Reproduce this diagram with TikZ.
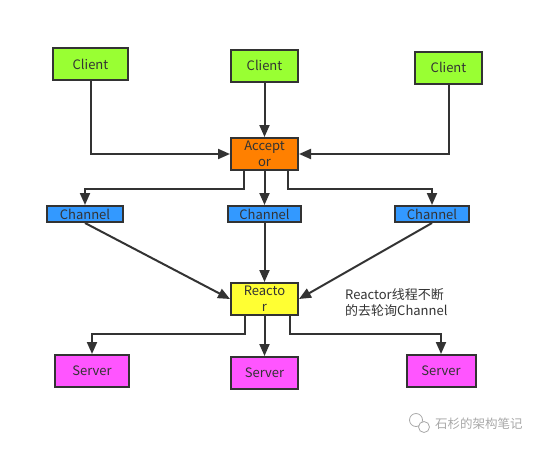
\documentclass[tikz,border=0pt]{standalone}
\usepackage{fontspec}
\setmainfont{Noto Sans CJK SC}
\usetikzlibrary{arrows.meta}
\definecolor{edgegray}{HTML}{333333}
\definecolor{clientgreen}{HTML}{99FF33}
\definecolor{acceptorange}{HTML}{FF8000}
\definecolor{channelblue}{HTML}{3399FF}
\definecolor{reactoryellow}{HTML}{FFFF33}
\definecolor{serverpink}{HTML}{FF55FF}
\definecolor{markgray}{HTML}{A8A8A8}
\begin{document}
\begin{tikzpicture}[x=1pt,y=-1pt,
  box/.style={draw=edgegray,line width=2pt,text=edgegray,inner sep=0pt,
    font=\fontsize{13}{16}\selectfont,align=center,minimum height=32pt},
  link/.style={draw=edgegray,line width=2pt,-{Triangle[length=12pt,width=10pt]}}]
\useasboundingbox (0,0) rectangle (545,450);
% clients
\node [box,fill=clientgreen,minimum width=75pt] (client1) at (90.5,64) {Client};
\node [box,fill=clientgreen,minimum width=67pt] (client2) at (264.5,65.5) {Client};
\node [box,fill=clientgreen,minimum width=67pt] (client3) at (448.5,67.5) {Client};
% acceptor
\node [box,fill=acceptorange,minimum width=67pt] (acceptor) at (264.5,154) {Accept\\or};
% channels
\node [box,fill=channelblue,minimum width=76pt,minimum height=16pt] (channel1) at (85,214) {Channel};
\node [box,fill=channelblue,minimum width=73pt,minimum height=16pt] (channel2) at (264.5,214) {Channel};
\node [box,fill=channelblue,minimum width=74pt,minimum height=16pt] (channel3) at (432,214) {Channel};
% reactor
\node [box,fill=reactoryellow,minimum width=67pt] (reactor) at (264.5,299) {Reacto\\r};
% servers
\node [box,fill=serverpink,minimum width=74pt] (server1) at (92,371) {Server};
\node [box,fill=serverpink,minimum width=67pt] (server2) at (264.5,373) {Server};
\node [box,fill=serverpink,minimum width=69pt] (server3) at (441,371) {Server};
% note
\node [anchor=west,align=left,inner sep=0pt,text=edgegray,font=\fontsize{13}{15.5}\selectfont] (note) at (345,302.5) {Reactor线程不断\\的去轮询Channel};
% edges
\draw [link] (client1.south) |- (acceptor.west);
\draw [link] (client2) -- (acceptor);
\draw [link] (client3.south) |- (acceptor.east);
\draw [link] ([xshift=-20.5pt]acceptor.south) -- ++(0,18) -| (channel1.north);
\draw [link] (acceptor) -- (channel2);
\draw [link] ([xshift=23.5pt]acceptor.south) -- ++(0,18) -| (channel3.north);
\draw [link] (channel1.south) -- (reactor.west);
\draw [link] (channel2) -- (reactor);
\draw [link] (channel3.south) -- (reactor.east);
\draw [link] ([xshift=-20pt]reactor.south) -- ++(0,18) -| (server1.north);
\draw [link] (reactor) -- (server2);
\draw [link] ([xshift=25pt]reactor.south) -- ++(0,18) -| (server3.north);
% watermark
\draw [markgray,line width=0.8pt] (416,420) circle (6.5);
\draw [markgray,line width=0.8pt,fill=white] (424,427) circle (5.5);
\node [anchor=west,inner sep=0pt,text=markgray,font=\fontsize{12.5}{15}\selectfont] (mark) at (435,424) {石杉的架构笔记};
\end{tikzpicture}
\end{document}
